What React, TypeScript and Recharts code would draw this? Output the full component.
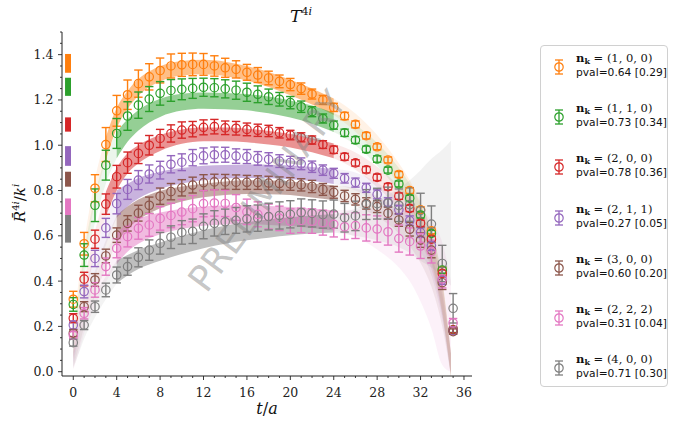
import React from 'react';
import { ComposedChart, XAxis, YAxis, Scatter, ErrorBar, Area, ReferenceArea } from 'recharts';

// Euclidean time slices
const T = [0, 1, 2, 3, 4, 5, 6, 7, 8, 9, 10, 11, 12, 13, 14, 15, 16, 17, 18, 19, 20, 21, 22, 23, 24, 25, 26, 27, 28, 29, 30, 31, 32, 33, 34, 35];

const MOMENTA = ['(1, 0, 0)', '(1, 1, 0)', '(2, 0, 0)', '(2, 1, 1)', '(3, 0, 0)', '(2, 2, 2)', '(4, 0, 0)'];
const PVALS = ['0.64 [0.29]', '0.73 [0.34]', '0.78 [0.36]', '0.27 [0.05]', '0.60 [0.20]', '0.31 [0.04]', '0.71 [0.30]'];
const COLORS = ['#ff7f0e', '#2ca02c', '#d62728', '#9467bd', '#8c564b', '#e377c2', '#7f7f7f'];

// ratio values per momentum
const R_100 = [0.32, 0.565, 0.81, 1.003, 1.152, 1.223, 1.272, 1.302, 1.33, 1.35, 1.355, 1.357, 1.357, 1.35, 1.342, 1.335, 1.322, 1.31, 1.297, 1.282, 1.268, 1.25, 1.226, 1.2, 1.167, 1.129, 1.092, 1.042, 0.993, 0.935, 0.871, 0.8, 0.715, 0.622, 0.447, 0.183];
const E_100 = [0.035, 0.05, 0.06, 0.075, 0.068, 0.065, 0.06, 0.058, 0.055, 0.053, 0.051, 0.05, 0.048, 0.045, 0.042, 0.038, 0.035, 0.033, 0.03, 0.028, 0.027, 0.025, 0.022, 0.02, 0.018, 0.016, 0.015, 0.014, 0.013, 0.013, 0.013, 0.013, 0.013, 0.013, 0.014, 0.012];

const R_110 = [0.297, 0.515, 0.735, 0.912, 1.052, 1.129, 1.177, 1.204, 1.229, 1.242, 1.247, 1.251, 1.256, 1.254, 1.249, 1.243, 1.234, 1.225, 1.214, 1.203, 1.188, 1.17, 1.148, 1.118, 1.089, 1.055, 1.023, 0.982, 0.939, 0.89, 0.829, 0.766, 0.692, 0.611, 0.449, 0.185];
const E_110 = [0.03, 0.05, 0.072, 0.066, 0.066, 0.063, 0.058, 0.055, 0.052, 0.048, 0.046, 0.044, 0.04, 0.04, 0.04, 0.04, 0.04, 0.037, 0.034, 0.03, 0.027, 0.025, 0.022, 0.02, 0.018, 0.016, 0.015, 0.014, 0.014, 0.013, 0.013, 0.013, 0.013, 0.013, 0.014, 0.012];

const R_200 = [0.236, 0.409, 0.585, 0.74, 0.861, 0.923, 0.964, 1.0, 1.03, 1.052, 1.067, 1.071, 1.079, 1.082, 1.077, 1.075, 1.07, 1.066, 1.063, 1.055, 1.045, 1.035, 1.023, 1.003, 0.98, 0.949, 0.922, 0.892, 0.858, 0.817, 0.775, 0.721, 0.655, 0.585, 0.434, 0.184];
const E_200 = [0.02, 0.03, 0.04, 0.045, 0.05, 0.047, 0.045, 0.043, 0.04, 0.038, 0.036, 0.034, 0.033, 0.032, 0.03, 0.03, 0.028, 0.027, 0.025, 0.023, 0.021, 0.02, 0.018, 0.017, 0.016, 0.015, 0.014, 0.014, 0.014, 0.014, 0.014, 0.014, 0.014, 0.014, 0.014, 0.012];

const R_211 = [0.206, 0.354, 0.5, 0.635, 0.742, 0.805, 0.846, 0.873, 0.89, 0.916, 0.925, 0.945, 0.953, 0.958, 0.958, 0.952, 0.95, 0.942, 0.938, 0.93, 0.924, 0.918, 0.905, 0.89, 0.876, 0.854, 0.835, 0.812, 0.783, 0.748, 0.715, 0.667, 0.615, 0.557, 0.405, 0.181];
const E_211 = [0.018, 0.028, 0.036, 0.042, 0.045, 0.044, 0.042, 0.04, 0.039, 0.038, 0.037, 0.036, 0.035, 0.034, 0.033, 0.032, 0.031, 0.03, 0.029, 0.028, 0.027, 0.026, 0.025, 0.023, 0.022, 0.021, 0.02, 0.02, 0.02, 0.02, 0.02, 0.021, 0.022, 0.022, 0.02, 0.015];

const R_300 = [0.17, 0.287, 0.405, 0.511, 0.603, 0.655, 0.7, 0.735, 0.775, 0.795, 0.812, 0.824, 0.835, 0.838, 0.838, 0.837, 0.836, 0.835, 0.833, 0.831, 0.829, 0.825, 0.818, 0.805, 0.792, 0.776, 0.761, 0.743, 0.729, 0.7, 0.67, 0.629, 0.581, 0.537, 0.393, 0.177];
const E_300 = [0.015, 0.022, 0.028, 0.03, 0.032, 0.034, 0.035, 0.036, 0.036, 0.036, 0.036, 0.035, 0.035, 0.034, 0.033, 0.032, 0.031, 0.03, 0.03, 0.029, 0.028, 0.027, 0.027, 0.026, 0.026, 0.025, 0.025, 0.025, 0.026, 0.027, 0.028, 0.03, 0.032, 0.034, 0.03, 0.012];

const R_222 = [0.162, 0.258, 0.361, 0.464, 0.545, 0.596, 0.633, 0.648, 0.677, 0.69, 0.705, 0.72, 0.742, 0.745, 0.743, 0.725, 0.706, 0.695, 0.685, 0.677, 0.665, 0.668, 0.665, 0.658, 0.651, 0.64, 0.645, 0.635, 0.63, 0.618, 0.588, 0.575, 0.555, 0.53, 0.41, 0.215];
const E_222 = [0.015, 0.025, 0.032, 0.038, 0.042, 0.045, 0.048, 0.05, 0.052, 0.054, 0.056, 0.058, 0.058, 0.058, 0.058, 0.057, 0.056, 0.055, 0.055, 0.054, 0.054, 0.054, 0.054, 0.055, 0.056, 0.056, 0.057, 0.058, 0.058, 0.059, 0.06, 0.06, 0.055, 0.05, 0.04, 0.02];

const R_400 = [0.128, 0.206, 0.287, 0.361, 0.427, 0.464, 0.505, 0.537, 0.567, 0.594, 0.615, 0.62, 0.642, 0.655, 0.662, 0.668, 0.675, 0.678, 0.685, 0.69, 0.695, 0.703, 0.699, 0.694, 0.696, 0.68, 0.688, 0.738, 0.742, 0.745, 0.735, 0.738, 0.712, 0.652, 0.478, 0.28];
const E_400 = [0.015, 0.02, 0.025, 0.03, 0.035, 0.038, 0.042, 0.045, 0.048, 0.05, 0.052, 0.054, 0.055, 0.056, 0.056, 0.057, 0.058, 0.058, 0.059, 0.06, 0.06, 0.06, 0.06, 0.06, 0.062, 0.063, 0.065, 0.066, 0.068, 0.07, 0.072, 0.074, 0.076, 0.08, 0.08, 0.065];

// fit bands: central value and half width sampled in t
const T_BAND = [0, 0.5, 1, 2, 3, 4, 5, 6, 8, 10, 12, 14, 16, 18, 20, 22, 24, 26, 28, 30, 31, 32, 33, 34, 34.8];
const FIT_START = [3, 4, 3, 4, 4, 4, 4];
const FIT_END = [24, 24, 24, 24, 24, 24, 24];

const BC_100 = [0.15, 0.35, 0.52, 0.8, 0.985, 1.12, 1.2, 1.255, 1.315, 1.34, 1.345, 1.337, 1.318, 1.29, 1.255, 1.215, 1.17, 1.1, 1.0, 0.87, 0.79, 0.69, 0.56, 0.34, 0.03];
const BW_100 = [0.05, 0.05, 0.05, 0.05, 0.05, 0.045, 0.04, 0.037, 0.034, 0.032, 0.032, 0.032, 0.032, 0.033, 0.034, 0.035, 0.036, 0.04, 0.045, 0.05, 0.055, 0.06, 0.065, 0.07, 0.05];
const BC_110 = [0.12, 0.3, 0.47, 0.72, 0.89, 1.0, 1.065, 1.11, 1.165, 1.19, 1.197, 1.195, 1.19, 1.178, 1.16, 1.135, 1.1, 1.045, 0.96, 0.845, 0.77, 0.675, 0.55, 0.33, 0.03];
const BW_110 = [0.05, 0.05, 0.055, 0.06, 0.06, 0.058, 0.05, 0.045, 0.04, 0.037, 0.036, 0.036, 0.036, 0.037, 0.038, 0.04, 0.042, 0.045, 0.05, 0.055, 0.06, 0.065, 0.07, 0.075, 0.05];
const BC_200 = [0.1, 0.22, 0.35, 0.57, 0.74, 0.85, 0.92, 0.96, 1.01, 1.038, 1.048, 1.048, 1.043, 1.033, 1.02, 1.0, 0.975, 0.93, 0.86, 0.77, 0.71, 0.63, 0.52, 0.32, 0.03];
const BW_200 = [0.045, 0.045, 0.05, 0.05, 0.055, 0.05, 0.045, 0.04, 0.035, 0.032, 0.03, 0.03, 0.03, 0.03, 0.03, 0.031, 0.033, 0.038, 0.045, 0.05, 0.055, 0.06, 0.065, 0.07, 0.05];
const BC_211 = [0.08, 0.19, 0.3, 0.47, 0.62, 0.74, 0.78, 0.81, 0.845, 0.865, 0.877, 0.883, 0.885, 0.884, 0.88, 0.873, 0.862, 0.84, 0.79, 0.71, 0.66, 0.59, 0.49, 0.3, 0.03];
const BW_211 = [0.045, 0.045, 0.05, 0.055, 0.06, 0.06, 0.05, 0.045, 0.038, 0.034, 0.032, 0.03, 0.03, 0.03, 0.03, 0.031, 0.033, 0.04, 0.045, 0.05, 0.055, 0.06, 0.065, 0.07, 0.05];
const BC_300 = [0.06, 0.15, 0.25, 0.39, 0.52, 0.63, 0.68, 0.715, 0.76, 0.785, 0.8, 0.81, 0.815, 0.814, 0.81, 0.8, 0.79, 0.77, 0.73, 0.66, 0.61, 0.54, 0.44, 0.27, 0.03];
const BW_300 = [0.04, 0.045, 0.05, 0.055, 0.06, 0.06, 0.05, 0.045, 0.038, 0.033, 0.03, 0.03, 0.03, 0.03, 0.03, 0.031, 0.033, 0.04, 0.045, 0.05, 0.055, 0.06, 0.065, 0.07, 0.05];
const BC_222 = [0.05, 0.13, 0.22, 0.35, 0.46, 0.545, 0.59, 0.62, 0.655, 0.675, 0.687, 0.692, 0.693, 0.69, 0.685, 0.677, 0.668, 0.655, 0.63, 0.59, 0.56, 0.51, 0.43, 0.3, 0.2];
const BW_222 = [0.04, 0.045, 0.05, 0.06, 0.065, 0.07, 0.06, 0.055, 0.048, 0.045, 0.043, 0.042, 0.042, 0.042, 0.042, 0.043, 0.045, 0.06, 0.09, 0.13, 0.16, 0.2, 0.24, 0.27, 0.2];
const BC_400 = [0.05, 0.12, 0.19, 0.29, 0.37, 0.44, 0.47, 0.495, 0.53, 0.56, 0.585, 0.605, 0.62, 0.632, 0.642, 0.65, 0.655, 0.66, 0.67, 0.68, 0.685, 0.69, 0.7, 0.7, 0.7];
const BW_400 = [0.035, 0.04, 0.045, 0.05, 0.05, 0.05, 0.045, 0.042, 0.04, 0.04, 0.04, 0.04, 0.04, 0.04, 0.04, 0.04, 0.04, 0.06, 0.09, 0.13, 0.16, 0.2, 0.24, 0.28, 0.32];

// plateau estimates shown as bars at the left edge
const PLATEAU_LO = [1.32, 1.218, 1.06, 0.909, 0.817, 0.692, 0.57];
const PLATEAU_HI = [1.403, 1.298, 1.123, 0.996, 0.883, 0.765, 0.692];
const PLATEAU_T0 = -0.76;
const PLATEAU_T1 = -0.21;

const X_TICKS = [0, 1, 2, 3, 4, 5, 6, 7, 8, 9, 10, 11, 12, 13, 14, 15, 16, 17, 18, 19, 20, 21, 22, 23, 24, 25, 26, 27, 28, 29, 30, 31, 32, 33, 34, 35, 36];
const X_MAJOR = [0, 4, 8, 12, 16, 20, 24, 28, 32, 36];
const Y_TICKS = [0, 0.05, 0.1, 0.15, 0.2, 0.25, 0.3, 0.35, 0.4, 0.45, 0.5, 0.55, 0.6, 0.65, 0.7, 0.75, 0.8, 0.85, 0.9, 0.95, 1.0, 1.05, 1.1, 1.15, 1.2, 1.25, 1.3, 1.35, 1.4, 1.45, 1.5];
const Y_MAJOR = [0, 0.2, 0.4, 0.6, 0.8, 1.0, 1.2, 1.4];

const VALUES = [R_100, R_110, R_200, R_211, R_300, R_222, R_400];
const ERRORS = [E_100, E_110, E_200, E_211, E_300, E_222, E_400];
const BAND_C = [BC_100, BC_110, BC_200, BC_211, BC_300, BC_222, BC_400];
const BAND_W = [BW_100, BW_110, BW_200, BW_211, BW_300, BW_222, BW_400];

const series = COLORS.map((color, k) => {
  const band = T_BAND.map((t, i) => ({ t, r: [BAND_C[k][i] - BAND_W[k][i], BAND_C[k][i] + BAND_W[k][i]] }));
  return {
    color,
    points: T.map((t, i) => ({ t, y: VALUES[k][i], e: ERRORS[k][i] })),
    fit: band.filter((d) => d.t >= FIT_START[k] && d.t <= FIT_END[k]),
    before: band.filter((d) => d.t <= FIT_START[k]),
    after: band.filter((d) => d.t >= FIT_END[k]),
  };
});

const AXIS = '#222';
const SERIF = '"DejaVu Serif", serif';
const SANS = '"DejaVu Sans", sans-serif';

const XTick = (p: any) => {
  const v = p.payload.value;
  const major = X_MAJOR.includes(v);
  return (
    <g>
      <line x1={p.x} x2={p.x} y1={p.y} y2={p.y + (major ? 4 : 2)} stroke={AXIS} strokeWidth={0.9} />
      {major && (
        <text x={p.x} y={p.y + 21} textAnchor="middle" fontFamily={SERIF} fontSize={12.5} fill={AXIS}>
          {v}
        </text>
      )}
    </g>
  );
};

const YTick = (p: any) => {
  const v = p.payload.value;
  const major = Y_MAJOR.some((m) => Math.abs(m - v) < 1e-6);
  return (
    <g>
      <line x1={p.x} x2={p.x - (major ? 4 : 2)} y1={p.y} y2={p.y} stroke={AXIS} strokeWidth={0.9} />
      {major && (
        <text x={p.x - 8.5} y={p.y} dy="0.36em" textAnchor="end" fontFamily={SERIF} fontSize={12.5} fill={AXIS}>
          {v.toFixed(1)}
        </text>
      )}
    </g>
  );
};

const ring = (color: string) => (p: any) => (
  <circle cx={p.cx} cy={p.cy} r={4.2} fill="none" stroke={color} strokeWidth={1.2} />
);

const LegendMarker = ({ color }: { color: string }) => (
  <svg width={16} height={20} style={{ position: 'absolute', left: 10, top: -10 }}>
    <line x1={8} x2={8} y1={3} y2={17} stroke={color} strokeWidth={1.3} />
    <line x1={4} x2={12} y1={3} y2={3} stroke={color} strokeWidth={1.3} />
    <line x1={4} x2={12} y1={17} y2={17} stroke={color} strokeWidth={1.3} />
    <circle cx={8} cy={10} r={4.2} fill="none" stroke={color} strokeWidth={1.2} />
  </svg>
);

const LEGEND_TOP = 45;
const LEGEND_FIRST = 66;
const LEGEND_STEP = 50.2;

export default function App() {
  return (
    <div style={{ position: 'absolute', left: 0, top: 0, width: 673, height: 422, background: '#fff' }}>
      <ComposedChart width={673} height={422} margin={{ top: 32, right: 201, bottom: 0, left: 0 }}>
        <XAxis
          dataKey="t"
          type="number"
          domain={[-1.04, 36.74]}
          allowDataOverflow
          ticks={X_TICKS}
          interval={0}
          tick={<XTick />}
          tickLine={false}
          tickSize={0}
          tickMargin={0}
          height={46}
          axisLine={{ stroke: AXIS, strokeWidth: 1 }}
        />
        <XAxis xAxisId="top" orientation="top" type="number" domain={[-1.04, 36.74]} tick={false} tickLine={false} height={0} axisLine={{ stroke: AXIS, strokeWidth: 1 }} />
        <YAxis
          type="number"
          domain={[-0.019, 1.5]}
          allowDataOverflow
          ticks={Y_TICKS}
          interval={0}
          tick={<YTick />}
          tickLine={false}
          tickSize={0}
          tickMargin={0}
          width={62}
          axisLine={{ stroke: AXIS, strokeWidth: 1 }}
        />
        <YAxis yAxisId="right" orientation="right" type="number" domain={[-0.019, 1.5]} tick={false} tickLine={false} width={0} axisLine={{ stroke: AXIS, strokeWidth: 1 }} />

        {series.map((s, k) => (
          <Area key={`b${k}`} data={s.before} dataKey="r" type="monotone" stroke="none" fill={s.color} fillOpacity={0.09} isAnimationActive={false} dot={false} activeDot={false} />
        ))}
        {series.map((s, k) => (
          <Area key={`a${k}`} data={s.after} dataKey="r" type="monotone" stroke="none" fill={s.color} fillOpacity={0.1} isAnimationActive={false} dot={false} activeDot={false} />
        ))}
        {series.map((s, k) => (
          <Area key={`f${k}`} data={s.fit} dataKey="r" type="monotone" stroke="none" fill={s.color} fillOpacity={0.5} isAnimationActive={false} dot={false} activeDot={false} />
        ))}

        {COLORS.map((c, k) => (
          <ReferenceArea key={`p${k}`} x1={PLATEAU_T0} x2={PLATEAU_T1} y1={PLATEAU_LO[k]} y2={PLATEAU_HI[k]} fill={c} fillOpacity={1} stroke="none" />
        ))}

        {series.map((s, k) => (
          <Scatter key={`s${k}`} data={s.points} dataKey="y" shape={ring(s.color)} isAnimationActive={false}>
            <ErrorBar dataKey="e" direction="y" width={4.2} stroke={s.color} strokeWidth={1.4} isAnimationActive={false} />
          </Scatter>
        ))}
      </ComposedChart>

      <svg width={673} height={422} style={{ position: 'absolute', left: 0, top: 0, pointerEvents: 'none' }}>
        <text x={301} y={22} textAnchor="middle" fontFamily={SERIF} fontSize={17} fill="#111">
          <tspan fontStyle="italic">T</tspan>
          <tspan fontSize={11} dy={-7}>4</tspan>
          <tspan fontSize={11} fontStyle="italic">i</tspan>
        </text>
        <text x={267} y={414} textAnchor="middle" fontFamily={SERIF} fontSize={16} fill="#111">
          <tspan fontStyle="italic">t</tspan>
          <tspan>/</tspan>
          <tspan fontStyle="italic">a</tspan>
        </text>
        <text x={20} y={203} transform="rotate(-90 20 203)" textAnchor="middle" dy="0.35em" fontFamily={SERIF} fontSize={15} fill="#111">
          <tspan fontStyle="italic">{'R\u0304'}</tspan>
          <tspan fontSize={10} dy={-6}>4</tspan>
          <tspan fontSize={10} fontStyle="italic">i</tspan>
          <tspan dy={6}>/</tspan>
          <tspan fontStyle="italic">k</tspan>
          <tspan fontSize={10} dy={-6} fontStyle="italic">i</tspan>
        </text>
        <text
          x={267}
          y={191}
          transform="rotate(-53.6 267 191)"
          textAnchor="middle"
          dy="0.35em"
          fontFamily={SANS}
          fontSize={36}
          fill="#808080"
          fillOpacity={0.45}
        >
          PRELIMINARY
        </text>
      </svg>

      <div
        style={{
          position: 'absolute',
          left: 540,
          top: LEGEND_TOP,
          width: 128,
          height: 342,
          border: '1px solid #d0d0d0',
          borderRadius: 4,
          background: '#fff',
          boxSizing: 'border-box',
        }}
      >
        {COLORS.map((c, k) => {
          const cy = LEGEND_FIRST + k * LEGEND_STEP - LEGEND_TOP;
          return (
            <div key={k} style={{ position: 'absolute', left: 0, top: cy, width: 128 }}>
              <LegendMarker color={c} />
              <div style={{ position: 'absolute', left: 35, top: -16, whiteSpace: 'nowrap', fontFamily: SERIF, fontSize: 11.5, lineHeight: '14px', color: '#111' }}>
                <b>n</b>
                <sub style={{ fontSize: 8, fontWeight: 'bold', verticalAlign: '-2px' }}>k</sub>
                {' = '}
                {MOMENTA[k]}
              </div>
              <div style={{ position: 'absolute', left: 35, top: -1, whiteSpace: 'nowrap', fontFamily: SANS, fontSize: 10.7, lineHeight: '13px', color: '#111' }}>
                pval={PVALS[k]}
              </div>
            </div>
          );
        })}
      </div>
    </div>
  );
}
